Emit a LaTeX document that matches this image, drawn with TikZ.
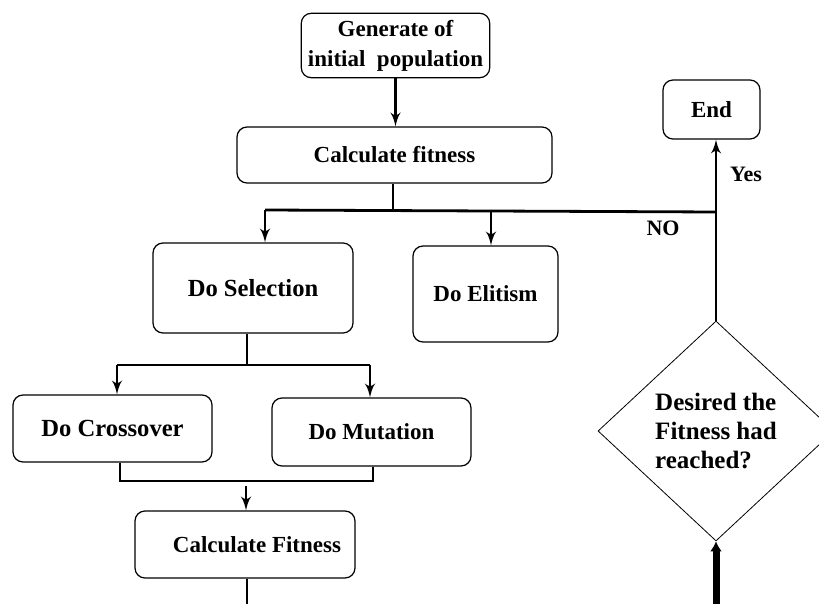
\documentclass[tikz,border=0pt]{standalone}
\usepackage{fontspec}
\setmainfont{Liberation Serif}
\usetikzlibrary{arrows,arrows.meta,shapes.geometric,calc}
\tikzset{
    block/.style = {draw, rectangle, rounded corners=5pt, line width=0.6pt,
        font=\bfseries\fontsize{11.5}{15}\selectfont, align=center},
    decision/.style = {draw, diamond, line width=0.4pt, inner sep=0pt,
        minimum width=118pt, minimum height=110pt,
        font=\bfseries\fontsize{12.5}{14.5}\selectfont, align=left},
    line/.style = {draw, line width=1.4pt},
    arrow/.style = {draw, line width=1.4pt, ->},
    tag/.style = {font=\bfseries\fontsize{11}{13}\selectfont}
}

\begin{document}
\begin{tikzpicture}[x=0.5pt, y=-0.5pt, >=latex']
    \useasboundingbox (0,0) rectangle (819,604);
    % boxes
    \node [block, minimum width=92.5pt, minimum height=30pt] (gen) at (395.5,45.5) {Generate of\\initial\ \ population};
    \node [block, minimum width=157.5pt, minimum height=28pt] (calc) at (394.5,155) {Calculate fitness};
    \node [block, minimum width=100pt, minimum height=45pt, font=\bfseries\fontsize{12.3}{14}\selectfont] (sel) at (253,288) {Do Selection};
    \node [block, minimum width=72.5pt, minimum height=48pt, font=\bfseries\fontsize{11.5}{13}\selectfont] (elit) at (485.5,294) {Do Elitism};
    \node [block, minimum width=48.5pt, minimum height=29.5pt] (endb) at (711.5,109.5) {End};
    \node [block, minimum width=99.5pt, minimum height=33.5pt, font=\bfseries\fontsize{12.3}{14}\selectfont] (cross) at (112.5,428.5) {Do Crossover};
    \node [block, minimum width=99.5pt, minimum height=34pt, font=\bfseries\fontsize{11.5}{13}\selectfont] (mut) at (371.5,432) {Do Mutation};
    \node [block, minimum width=110pt, minimum height=33.5pt, font=\bfseries\fontsize{11.5}{13}\selectfont] (calc2) at (245,544.5) {\hspace*{12pt}Calculate Fitness};
    \node [decision] (dia) at (716,431) {Desired the\\Fitness had\\reached?};
    % junctions
    \coordinate (jl) at (265,210);
    \coordinate (jc) at (393,210);
    \coordinate (je) at (491,211);
    \coordinate (jr) at (716,212);
    \coordinate (js) at (247,365);
    \coordinate (jx) at (117,365);
    \coordinate (jm) at (370,365);
    \coordinate (kc) at (120,481);
    \coordinate (km) at (373,481);
    \coordinate (kf) at (246,486);
    \coordinate (bot) at (716,604);
    \coordinate (out) at (247,604);
    % connectors
    \draw [arrow] (gen.south) -- (gen.south |- calc.north);
    \draw [line] (jc |- calc.south) -- (jc);
    \draw [line] (jl) -- (jr);
    \draw [arrow] (jl) -- (jl |- sel.north);
    \draw [arrow] (je) -- (je |- elit.north);
    \draw [arrow] (dia.north) -- (dia.north |- endb.south);
    \draw [line] (js |- sel.south) -- (js);
    \draw [line] (jx) -- (jm);
    \draw [arrow] (jx) -- (jx |- cross.north);
    \draw [arrow] (jm) -- (jm |- mut.north);
    \draw [line] (kc |- cross.south) -- (kc) -- (km) -- (km |- mut.south);
    \draw [arrow] (kf) -- (kf |- calc2.north);
    \draw [line] (out |- calc2.south) -- (out);
    \draw [-{Latex[length=5pt,width=6pt]}, line width=3.5pt] (bot) -- (dia.south);
    % labels
    \node [tag] (yes) at (746,174) {Yes};
    \node [tag] (no) at (663,228) {NO};
\end{tikzpicture}
\end{document}
